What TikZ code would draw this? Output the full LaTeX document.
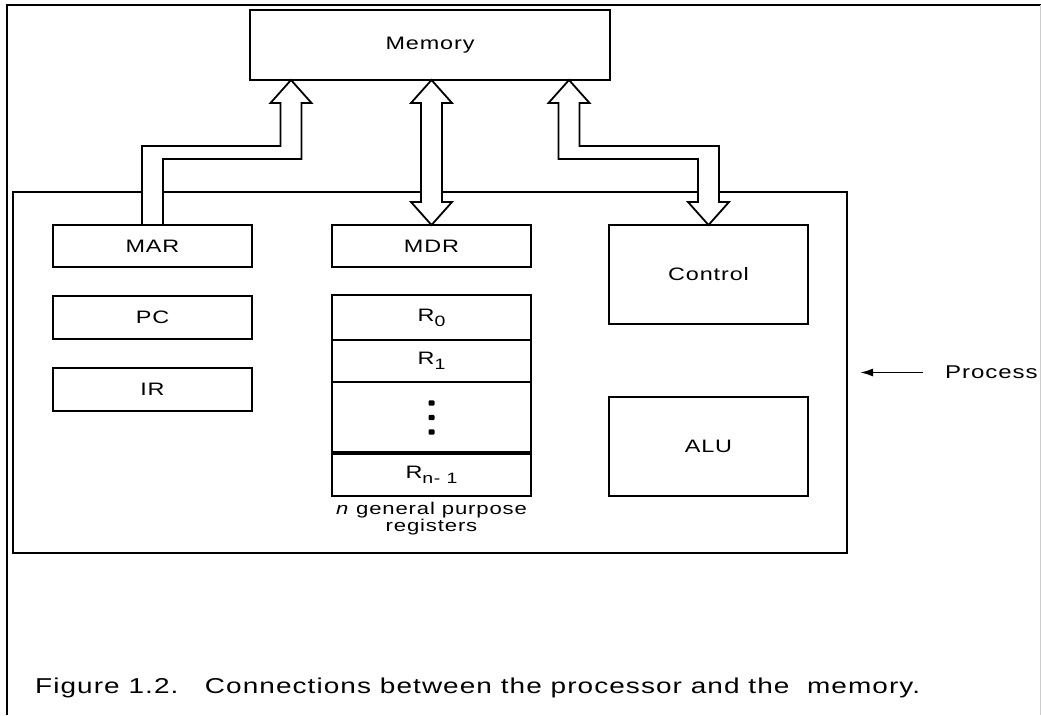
\documentclass[tikz,border=0pt]{standalone}
\usepackage{fontspec}
\setmainfont{Liberation Sans}[FakeStretch=1.3,LetterSpace=5]
\usetikzlibrary{calc,arrows.meta}
\newcommand{\regsub}[1]{\raisebox{-5pt}{\fontsize{15}{15}\selectfont #1}}
\begin{document}
\begin{tikzpicture}[x=1pt,y=-1pt,
  box/.style={draw,line width=1.8pt,inner sep=0pt,outer sep=0pt,
    minimum width=199pt,font=\fontsize{18}{21}\selectfont},
  fat/.style={draw,line width=1.8pt,fill=white,line join=miter},
  lbl/.style={inner sep=0pt,font=\fontsize{18}{21}\selectfont},
]
\useasboundingbox (0,0) rectangle (1041,715);
% outer frame
\draw[line width=1.8pt] (7,715) -- (7,5) -- (1041,5);
\draw[line width=1pt,black!20] (1040,5) -- (1040,715);

% processor
\node[box,minimum width=834pt,minimum height=361pt] (proc) at (430,372.5) {};

% memory
\node[box,minimum width=360pt,minimum height=70pt] (mem) at (430,45) {Memory};

% left column
\node[box,minimum height=42pt] (mar) at (152.5,246) {MAR};
\node[box,minimum height=43pt] (pc) at (152.5,317.5) {PC};
\node[box,minimum height=43pt] (ir) at (152.5,389.5) {IR};

% middle column
\node[box,minimum height=42pt] (mdr) at (431.5,246) {MDR};
\node[box,minimum height=45pt] (r0) at (431.5,317.5) {R\regsub{0}};
\node[box,minimum height=42pt] (r1) at (431.5,361) {R\regsub{1}};
\node[box,minimum height=71pt] (rd) at (431.5,417.5) {};
\node[box,minimum height=43pt] (rn) at (431.5,474.5) {R\regsub{n- 1}};
\draw[line width=4pt] (rn.north west) -- (rn.north east);
\foreach \d in {-14.5,0,14.5}
  \fill[rounded corners=1pt] ($(rd.center)+(-3,\d-2.7)$) rectangle ++(6,5.4);
\node[lbl,align=center,font=\fontsize{17}{17}\selectfont] (gpr) at (431.5,519)
  {\textit{n} general purpose\\registers};

% right column
\node[box,minimum height=99pt] (ctl) at (708.5,274.5) {Control};
\node[box,minimum height=99pt] (alu) at (708.5,446.5) {ALU};

% MAR <-> memory (single head at memory)
\coordinate (Lt) at ($(mem.south west)+(41,0)$);
\coordinate (Lb) at ($(Lt)+(0,72.5)$);
\coordinate (Lc) at (mar.north |- Lb);
\draw[fat] (Lt) -- ++(20.5,23) -- ++(-10,0) -- ($(Lb)+(10.5,6.5)$)
  -- ($(Lc)+(10.5,6.5)$) -- ($(mar.north)+(10.5,0)$) -- ($(mar.north)+(-10.5,0)$)
  -- ($(Lc)+(-10.5,-6.5)$) -- ($(Lb)+(-10.5,-6.5)$) -- ($(Lt)+(-10.5,23)$)
  -- ++(-10,0) -- cycle;

% MDR <-> memory
\coordinate (Mt) at (mdr.north |- mem.south);
\draw[fat] (Mt) -- ++(20.5,23) -- ++(-10,0) -- ($(mdr.north)+(10.5,-23)$)
  -- ++(10,0) -- (mdr.north) -- ++(-20.5,-23) -- ++(10,0)
  -- ($(Mt)+(-10.5,23)$) -- ++(-10,0) -- cycle;

% Control <-> memory
\coordinate (Rt) at ($(mem.south east)+(-41,0)$);
\coordinate (Rb) at ($(Rt)+(0,72.5)$);
\coordinate (Rc) at (ctl.north |- Rb);
\draw[fat] (Rt) -- ++(20.5,23) -- ++(-10,0) -- ($(Rb)+(10.5,-6.5)$)
  -- ($(Rc)+(10.5,-6.5)$) -- ($(ctl.north)+(10.5,-23)$) -- ++(10,0)
  -- (ctl.north) -- ++(-20.5,-23) -- ++(10,0) -- ($(Rc)+(-10.5,6.5)$)
  -- ($(Rb)+(-10.5,6.5)$) -- ($(Rt)+(-10.5,23)$) -- ++(-10,0) -- cycle;

% Process label
\node[lbl,anchor=west,font=\fontsize{18.5}{21}\selectfont] (plab) at (945,372.5) {Process};
\coordinate (ptail) at ($(plab.west)+(-22,0)$);
\coordinate (phead) at ($(proc.east)+(13,0)$);
\draw[line width=1.8pt,-{Latex[length=13pt,width=8pt]}] (ptail) -- (phead);

% caption
\node[lbl,anchor=west,font=\fontsize{21.5}{24}\selectfont] (cap) at (35,688)
  {Figure 1.2.\ \ \ Connections between the processor and the\ \ memory.};
\end{tikzpicture}
\end{document}
